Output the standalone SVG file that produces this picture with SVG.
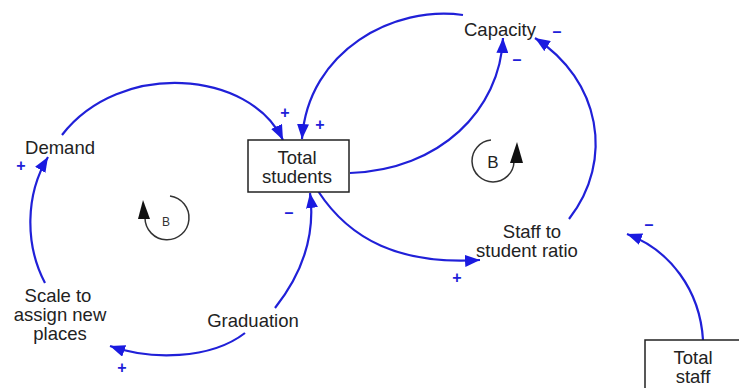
<svg xmlns="http://www.w3.org/2000/svg" width="739" height="388" viewBox="0 0 739 388">
<style>
.lbl{font-family:"Liberation Sans",Arial,sans-serif;font-size:18.5px;fill:#222;text-anchor:middle}
.sign{font-family:"Liberation Sans",Arial,sans-serif;font-size:16px;fill:#2020d8;text-anchor:middle;font-weight:bold}
.link{fill:none;stroke:#2020d8;stroke-width:2.2;marker-end:url(#ah)}
.box{fill:#fff;stroke:#222;stroke-width:1.5}
.loop{fill:none;stroke:#333;stroke-width:1.5}
</style>
<defs>
<marker id="ah" markerUnits="userSpaceOnUse" markerWidth="16" markerHeight="12" refX="15" refY="6" orient="auto">
<path d="M0,0 L15,6 L0,12 z" fill="#1a1ae0"/>
</marker>
</defs>
<rect width="739" height="388" fill="#fff"/>
<g id="connectors">
<path class="link" d="M463,15 C395,5 308,50 302,139"/>
<path class="link" d="M350,173 C440,170 500,110 503,38"/>
<path class="link" d="M569,219 C615,160 600,80 535,38"/>
<path class="link" d="M62,135 C120,60 250,70 283,140"/>
<path class="link" d="M45,283 C25,245 25,195 48,157"/>
<path class="link" d="M275,308 C305,270 315,230 310,193"/>
<path class="link" d="M245,333 C210,360 150,360 110,346"/>
<path class="link" d="M318,191 C350,240 400,265 480,260"/>
<path class="link" d="M703,340 C700,290 670,250 627,234"/>
</g>
<g id="signs">
<text class="sign" x="557" y="37">–</text>
<text class="sign" x="517" y="65">–</text>
<text class="sign" x="285" y="118">+</text>
<text class="sign" x="320" y="130">+</text>
<text class="sign" x="21" y="171">+</text>
<text class="sign" x="289" y="218">–</text>
<text class="sign" x="122" y="373">+</text>
<text class="sign" x="457" y="283">+</text>
<text class="sign" x="649" y="230">–</text>
</g>
<g id="capacity"><text class="lbl" x="500" y="36">Capacity</text></g>
<g id="total-students">
<rect class="box" x="248" y="140" width="101" height="52"/>
<text class="lbl" x="297" y="164">Total</text>
<text class="lbl" x="297" y="183">students</text>
</g>
<g id="demand"><text class="lbl" x="60" y="154">Demand</text></g>
<g id="scale">
<text class="lbl" x="58" y="302">Scale to</text>
<text class="lbl" x="60" y="321">assign new</text>
<text class="lbl" x="60" y="340">places</text>
</g>
<g id="graduation"><text class="lbl" x="253" y="327">Graduation</text></g>
<g id="staff-ratio">
<text class="lbl" x="532" y="238">Staff to</text>
<text class="lbl" x="527" y="257">student ratio</text>
</g>
<g id="total-staff">
<rect class="box" x="645" y="340" width="100" height="60"/>
<text class="lbl" x="693" y="364">Total</text>
<text class="lbl" x="693" y="383">staff</text>
</g>
<g id="loop-left">
<path class="loop" d="M170,196 A22,22 0 1 1 145,218"/>
<path d="M138,219 L143,200 L150,219 z" fill="#111"/>
<text x="166" y="226" font-family="Liberation Sans,Arial,sans-serif" font-size="12" fill="#333" text-anchor="middle">B</text>
</g>
<g id="loop-right">
<path class="loop" d="M491,140 A21,21 0 1 0 514,162"/>
<path d="M510,163 L517,142 L523,163 z" fill="#111"/>
<text x="493" y="168" font-family="Liberation Sans,Arial,sans-serif" font-size="17" fill="#222" text-anchor="middle">B</text>
</g>
</svg>
